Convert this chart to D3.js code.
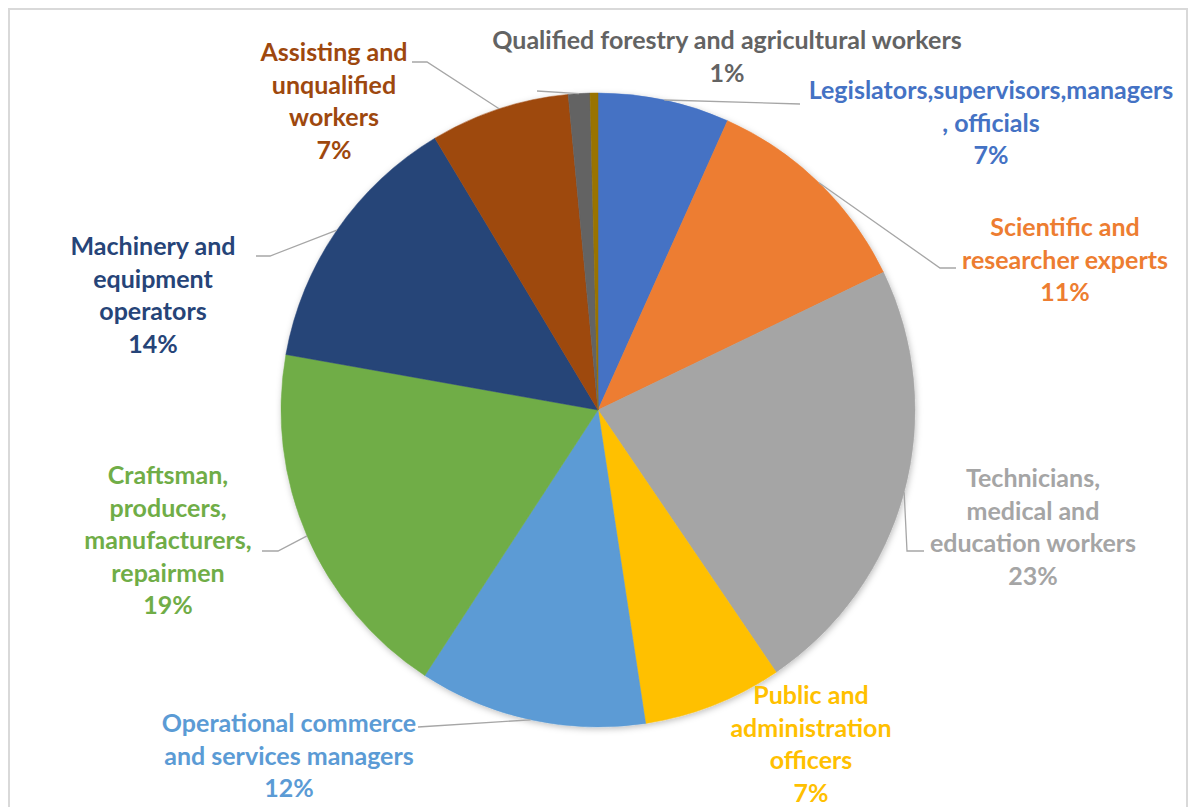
<!DOCTYPE html>
<html>
<head>
<meta charset="utf-8">
<script src="https://cdn.jsdelivr.net/npm/d3@7/dist/d3.min.js"></script>
<style>
  html, body { margin: 0; padding: 0; background: #fff; }
  svg { display: block; }
  .lbl { font-family: Lato, "Open Sans", sans-serif; font-weight: 700; }
</style>
</head>
<body>
<svg id="chart" width="1189" height="807"></svg>
<script>
// Occupational groups, clockwise from 12 o'clock
const categories = [
  "Legislators,supervisors,managers, officials",
  "Scientific and researcher experts",
  "Technicians, medical and education workers",
  "Public and administration officers",
  "Operational commerce and services managers",
  "Craftsman, producers, manufacturers, repairmen",
  "Machinery and equipment operators",
  "Assisting and unqualified workers",
  "Qualified forestry and agricultural workers",
  "Other"
];
// Share of employees (%)
const shares = [6.7, 11.15, 22.65, 7.1, 11.6, 18.6, 13.6, 7.1, 1.1, 0.4];
const colors = ["#4472C4", "#ED7D31", "#A5A5A5", "#FFC000", "#5B9BD5",
                "#70AD47", "#264478", "#9E480E", "#636363", "#997300"];

// Wrapped label lines (percentage line is appended from the data)
const labelLines = [
  ["Legislators,supervisors,managers", ", officials"],
  ["Scientific and", "researcher experts"],
  ["Technicians,", "medical and", "education workers"],
  ["Public and", "administration", "officers"],
  ["Operational commerce", "and services managers"],
  ["Craftsman,", "producers,", "manufacturers,", "repairmen"],
  ["Machinery and", "equipment", "operators"],
  ["Assisting and", "unqualified", "workers"],
  ["Qualified forestry and agricultural workers"],
  null
];

// Label anchor (centre x, first baseline y) and leader-line label-side points
const labelPos = [
  {x: 991, y: 99,  leader: [[800, 104]]},
  {x: 1065, y: 236, leader: [[956, 268], [940, 268]]},
  {x: 1033, y: 487, leader: [[924, 551], [907, 551]]},
  {x: 811, y: 704, leader: null},
  {x: 289, y: 732, leader: [[418, 727]]},
  {x: 168, y: 484, leader: [[262, 551], [278, 551]]},
  {x: 153, y: 255, leader: [[256, 256], [270, 256]]},
  {x: 334, y: 61,  leader: [[412, 62], [427, 62]]},
  {x: 727, y: 49,  leader: [[537, 91]]},
  null
];

const W = 1189, H = 807;
const cx = 598, cy = 410, R = 317;
const lineH = 32.5;

const svg = d3.select("#chart");

// chart-area frame
svg.append("rect")
  .attr("x", 9).attr("y", 9)
  .attr("width", 1178).attr("height", 830)
  .attr("fill", "#fff")
  .attr("stroke", "#D9D9D9").attr("stroke-width", 2);

const defs = svg.append("defs");
const shadow = defs.append("filter").attr("id", "pieShadow")
  .attr("x", "-10%").attr("y", "-10%").attr("width", "120%").attr("height", "120%");
shadow.append("feDropShadow")
  .attr("dx", 1).attr("dy", 2).attr("stdDeviation", 3)
  .attr("flood-color", "#000").attr("flood-opacity", 0.25);

const data = categories.map((c, i) => ({name: c, value: shares[i], color: colors[i], i}));
const total = d3.sum(shares);

const pie = d3.pie().sort(null).value(d => d.value);
const arcs = pie(data);
const arc = d3.arc().innerRadius(0).outerRadius(R);

const g = svg.append("g").attr("transform", `translate(${cx},${cy})`);

g.append("g").attr("filter", "url(#pieShadow)")
  .selectAll("path")
  .data(arcs)
  .join("path")
  .attr("d", arc)
  .attr("fill", d => d.data.color)
  .attr("stroke", d => d.data.color)
  .attr("stroke-width", 0.5);

const pct = d3.format(".0%");

// leader lines: from slice edge at mid-angle to the label
const leaders = svg.append("g");
arcs.forEach(a => {
  const p = labelPos[a.data.i];
  if (!p || !p.leader) return;
  const mid = (a.startAngle + a.endAngle) / 2;
  const edge = [cx + R * Math.sin(mid), cy - R * Math.cos(mid)];
  const pts = p.leader.concat([edge]);
  leaders.append("path")
    .attr("d", d3.line()(pts))
    .attr("fill", "none")
    .attr("stroke", "#A6A6A6")
    .attr("stroke-width", 1.3);
});

// data labels
const labels = svg.append("g").attr("class", "lbl");
arcs.forEach(a => {
  const i = a.data.i;
  const p = labelPos[i];
  if (!p || !labelLines[i]) return;
  const lines = labelLines[i].concat([pct(a.data.value / total)]);
  const t = labels.append("text")
    .attr("text-anchor", "middle")
    .attr("fill", a.data.color)
    .attr("font-size", 25);
  lines.forEach((ln, k) => {
    t.append("tspan").attr("x", p.x).attr("y", p.y + k * lineH).text(ln);
  });
});
</script>
</body>
</html>
